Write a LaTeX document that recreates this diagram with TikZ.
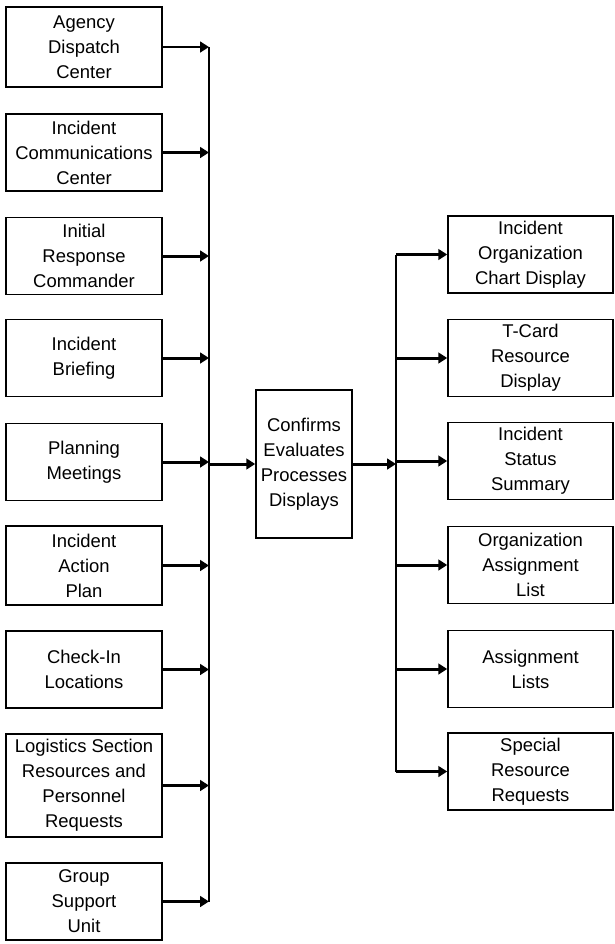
\documentclass[tikz,border=0pt]{standalone}
\usepackage{fontspec}
\setmainfont{Liberation Sans}
\usetikzlibrary{arrows.meta,positioning,calc}

\begin{document}
\begin{tikzpicture}[
  x=0.02cm,y=-0.02cm,
  font=\fontsize{10.5}{14.2}\selectfont,
  inbox/.style={draw, line width=0.9pt, align=center, inner sep=1pt, minimum width=3.12cm, minimum height=1.54cm},
  outbox/.style={draw, line width=0.9pt, align=center, inner sep=1pt, minimum width=3.3cm, minimum height=1.54cm},
  midbox/.style={draw, line width=0.9pt, align=center, inner sep=1pt, minimum width=1.92cm, minimum height=2.96cm},
  feed/.style={-{Triangle[length=5pt,width=6pt]}, line width=1.7pt},
  bus/.style={line width=1.6pt},
]
\useasboundingbox (0,0) rectangle (615,944);
% sources, left column
\node[inbox,minimum height=1.6cm] (disp) at (84,47) {Agency\\Dispatch\\Center};
\node[inbox] (comm) at (84,152.5) {Incident\\Communications\\Center};
\node[inbox] (irc) at (84,256) {Initial\\Response\\Commander};
\node[inbox] (brief) at (84,358) {Incident\\Briefing};
\node[inbox] (plan) at (84,462) {Planning\\Meetings};
\node[inbox,minimum height=1.58cm] (iap) at (84,565.5) {Incident\\Action\\Plan};
\node[inbox] (chk) at (84,669.5) {Check-In\\Locations};
\node[inbox,minimum height=2.06cm] (logi) at (84,785.5) {Logistics Section\\Resources and\\Personnel\\Requests};
\node[inbox] (grp) at (84,901.5) {Group\\Support\\Unit};
\coordinate (lbus) at (209,0);
\draw[bus] (disp.east -| lbus) -- (grp.east -| lbus);
\foreach \n in {disp,comm,irc,brief,plan,iap,chk,logi,grp}
  \draw[feed] (\n.east) -- (\n.east -| lbus);
% processing
\node[midbox] (proc) at (304,464) {Confirms\\Evaluates\\Processes\\Displays};
\draw[feed] (proc.west -| lbus) -- (proc.west);
% outputs, right column
\node[outbox] (orgc) at (530.5,254.5) {Incident\\Organization\\Chart Display};
\node[outbox] (tcard) at (530.5,358) {T-Card\\Resource\\Display};
\node[outbox] (stat) at (530.5,461) {Incident\\Status\\Summary};
\node[outbox] (oal) at (530.5,565) {Organization\\Assignment\\List};
\node[outbox] (asl) at (530.5,669) {Assignment\\Lists};
\node[outbox] (srr) at (530.5,771.5) {Special\\Resource\\Requests};
\coordinate (rbus) at (396,0);
\draw[bus] (orgc.west -| rbus) -- (srr.west -| rbus);
\draw[feed] (proc.east) -- (proc.east -| rbus);
\foreach \n in {orgc,tcard,stat,oal,asl,srr}
  \draw[feed] (\n.west -| rbus) -- (\n.west);
\end{tikzpicture}
\end{document}
